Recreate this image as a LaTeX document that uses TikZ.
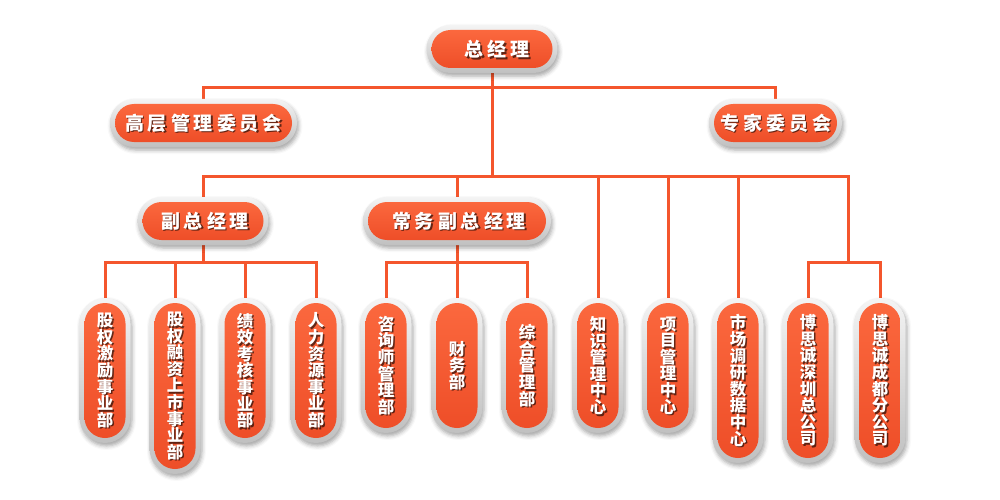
\documentclass[tikz,border=0pt]{standalone}
\usepackage{fontspec}
\newfontfamily\cjk{Noto Sans CJK SC}
\usetikzlibrary{shadows.blur,calc}
\definecolor{linec}{RGB}{244,86,45}
\definecolor{ortop}{RGB}{251,104,62}
\definecolor{orbot}{RGB}{238,78,40}
\definecolor{grtop}{RGB}{244,244,244}
\definecolor{grbot}{RGB}{192,192,192}
\pgfdeclarelayer{bg}\pgfsetlayers{bg,main}
\def\hk{\kern4pt}
\tikzset{
 outerpill/.style={draw=none, rectangle, inner sep=0pt, top color=grtop, bottom color=grbot,
   blur shadow={shadow xshift=1.5pt, shadow yshift=-3pt, shadow blur radius=4pt, shadow opacity=35}},
 innerpill/.style={draw=none, rectangle, inner sep=0pt, top color=ortop, bottom color=orbot},
 conn/.style={draw=linec, line width=3pt},
 htxt/.style={text=white, font=\cjk\bfseries\fontsize{19}{21}\selectfont, inner sep=0pt},
 vtxt/.style={text=white, font=\cjk\bfseries\fontsize{16.5}{16.6}\selectfont, align=center, inner sep=0pt},
 shd/.style={text=black, text opacity=0.6},
}
% horizontal pill: [xshift of text]{name}{x}{y}{w}{h}{text}
\newcommand\hpill[7][0]{%
  \node[outerpill, minimum width=#5, minimum height=#6, rounded corners=#6/2] (#2) at (#3,#4) {};
  \node[innerpill, minimum width=#5-10, minimum height=#6-10, rounded corners=#6/2-5] at (#2) {};
  \node[htxt, shd] at ($(#2)+(#1+1.7,1.7)$) {#7};
  \node[htxt] at ($(#2)+(#1,0)$) {#7};
}
% vertical pill: {name}{x}{y}{w}{h}{text}
\newcommand\vpill[6]{%
  \node[outerpill, minimum width=#4, minimum height=#5, rounded corners=#4/2] (#1) at (#2,#3) {};
  \node[innerpill, minimum width=#4-10, minimum height=#5-10, rounded corners=#4/2-5] at (#1) {};
  \node[vtxt, shd] at ($(#1)+(1.6,1.6)$) {#6};
  \node[vtxt] at (#1) {#6};
}
\begin{document}
\begin{tikzpicture}[x=1pt,y=-1pt]
\useasboundingbox (0,0) rectangle (1000,500);
% level 0/1
\hpill[5]{zjl}{492}{49}{131}{48}{总\hk 经\hk 理}
\hpill{gc}{203.5}{123}{187}{48}{高\hk 层\hk 管\hk 理\hk 委\hk 员\hk 会}
\hpill{zj}{775.5}{123}{133}{48}{专\hk 家\hk 委\hk 员\hk 会}
\hpill[2]{fzjl}{203}{221}{131}{48}{副\hk 总\hk 经\hk 理}
\hpill[2]{cwfz}{457}{221}{188}{48}{常\hk 务\hk 副\hk 总\hk 经\hk 理}
% bottom row
\vpill{n1}{105}{370.5}{51}{145}{股\\权\\激\\励\\事\\业\\部}
\vpill{n2}{175}{386}{51}{176}{股\\权\\融\\资\\上\\市\\事\\业\\部}
\vpill{n3}{245}{370.5}{51}{145}{绩\\效\\考\\核\\事\\业\\部}
\vpill{n4}{316}{370.5}{51}{145}{人\\力\\资\\源\\事\\业\\部}
\vpill{n5}{386}{365.5}{51}{135}{咨\\询\\师\\管\\理\\部}
\vpill{n6}{457}{365.5}{51}{135}{财\\务\\部}
\vpill{n7}{527}{365.5}{51}{135}{综\\合\\管\\理\\部}
\vpill{n8}{598}{365.5}{51}{135}{知\\识\\管\\理\\中\\心}
\vpill{n9}{668}{365.5}{51}{135}{项\\目\\管\\理\\中\\心}
\vpill{n10}{738}{380.5}{51}{165}{市\\场\\调\\研\\数\\据\\中\\心}
\vpill{n11}{808}{380.5}{51}{165}{博\\思\\诚\\深\\圳\\总\\公\\司}
\vpill{n12}{880}{380.5}{51}{165}{博\\思\\诚\\成\\都\\分\\公\\司}
% connectors
\coordinate (t1) at (492,88);
\coordinate (t2) at (492,176);
\coordinate (br) at (848,262);
\coordinate (f3) at (203,262);
\coordinate (c3) at (457,262);
\begin{pgfonlayer}{bg}
\draw[conn] (zjl.south) -- (t2);
\draw[conn] (gc.north) |- (t1) -| (zj.north);
\draw[conn] (fzjl.north) |- (t2);
\draw[conn] (t2) -| (cwfz.north);
\draw[conn] (t2) -| (n8.north);
\draw[conn] (t2) -| (n9.north);
\draw[conn] (t2) -| (n10.north);
\draw[conn] (t2) -| (br);
\draw[conn] (n11.north) |- (br) -| (n12.north);
\draw[conn] (fzjl.south) -- (f3);
\draw[conn] (n1.north) |- (f3) -| (n4.north);
\draw[conn] (f3) -| (n2.north);
\draw[conn] (f3) -| (n3.north);
\draw[conn] (cwfz.south) -- (c3);
\draw[conn] (n5.north) |- (c3) -| (n7.north);
\draw[conn] (c3) -| (n6.north);
\end{pgfonlayer}
\end{tikzpicture}
\end{document}
